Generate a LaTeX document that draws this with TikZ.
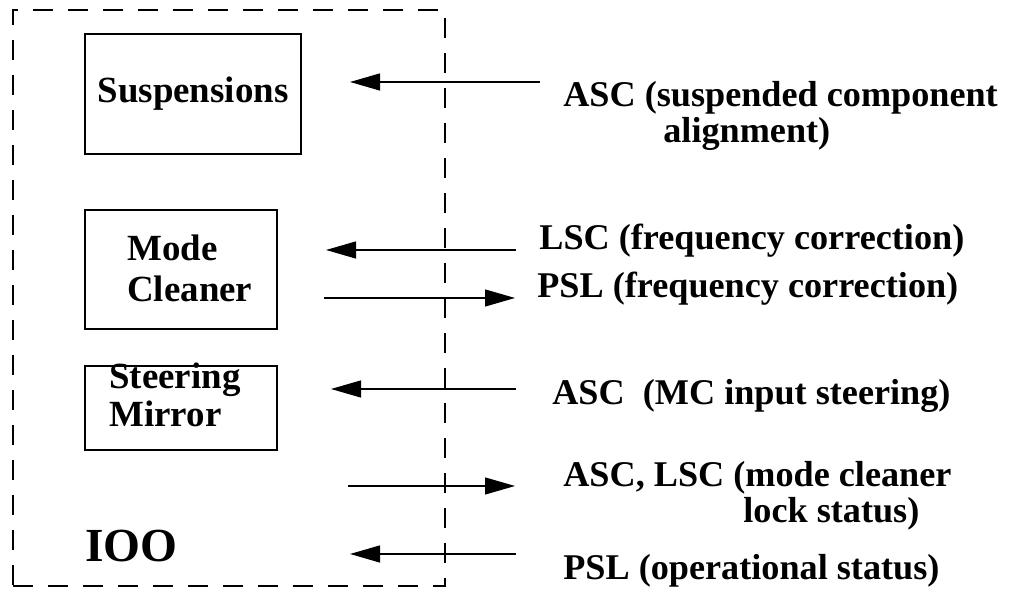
\documentclass[tikz,border=0pt]{standalone}
\usepackage{fontspec}
\setmainfont{Liberation Serif}
\usetikzlibrary{arrows.meta}

\begin{document}
\begin{tikzpicture}[
    box/.style     = {shape = rectangle, draw = black, line width = 0.75pt},
    boxtext/.style = {inner sep = 0pt, align = left, font = \fontsize{21}{22}\selectfont\bfseries},
    lbl/.style     = {inner sep = 0pt, anchor = base west, align = left, font = \fontsize{20.6}{20.8}\selectfont\bfseries},
    sig/.style     = {draw, line width = 0.7pt, -{Triangle[length = 0.6cm, width = 0.34cm]}}
  ]
  \useasboundingbox (0, 0) rectangle (20.38, 11.9);

  % IOO frame
  \node[box, dash pattern = on 0.4cm off 0.3cm, minimum width = 8.64cm, minimum height = 11.52cm] at (4.58, 5.94) (ioo) {};
  \node[inner sep = 0pt, anchor = base west, font = \fontsize{27}{27}\selectfont\bfseries] at (1.70, 0.66) (ioolbl) {IOO};

  \node[box, minimum width = 4.32cm, minimum height = 2.40cm, font = \fontsize{21}{22}\selectfont\bfseries] at (3.86, 10.02) (susp) {Suspensions};

  \node[box, minimum width = 3.84cm, minimum height = 2.38cm] at (3.62, 6.51) (mc) {};
  \node[boxtext, anchor = base west, font = \fontsize{21}{23.5}\selectfont\bfseries] at (2.54, 5.86) (mclbl) {Mode\\Cleaner};

  \node[box, minimum width = 3.84cm, minimum height = 1.68cm] at (3.62, 3.74) (sm) {};
  \node[boxtext, anchor = base west] at (2.18, 3.36) (smlbl) {Steering\\Mirror};

  % ------------------------------------------------------------------------
  % Signals
  \node[lbl] at (11.26, 9.04) (asc) {ASC (suspended component\\\hspace*{2cm}alignment)};
  \node[lbl] at (10.78, 6.90) (lscf) {LSC (frequency correction)};
  \node[lbl] at (10.74, 5.94) (pslf) {PSL (frequency correction)};
  \node[lbl] at (11.04, 3.80) (ascmc) {ASC\ \ (MC input steering)};
  \node[lbl] at (11.26, 1.44) (lock) {ASC, LSC (mode cleaner\\\hspace*{3.6cm}lock status)};
  \node[lbl] at (11.26, 0.30) (pslop) {PSL (operational status)};

  \coordinate (a1) at (10.80, 10.26);  \coordinate (b1) at ( 7.00, 10.26);
  \coordinate (a2) at (10.32,  6.90);  \coordinate (b2) at ( 6.52,  6.90);
  \coordinate (a3) at ( 6.48,  5.94);  \coordinate (b3) at (10.30,  5.94);
  \coordinate (a4) at (10.32,  4.12);  \coordinate (b4) at ( 6.62,  4.12);
  \coordinate (a5) at ( 6.96,  2.18);  \coordinate (b5) at (10.30,  2.18);
  \coordinate (a6) at (10.32,  0.82);  \coordinate (b6) at ( 7.00,  0.82);

  \path
    (a1) edge[sig] (b1)
    (a2) edge[sig] (b2)
    (a3) edge[sig] (b3)
    (a4) edge[sig] (b4)
    (a5) edge[sig] (b5)
    (a6) edge[sig] (b6)
  ;
\end{tikzpicture}
\end{document}
